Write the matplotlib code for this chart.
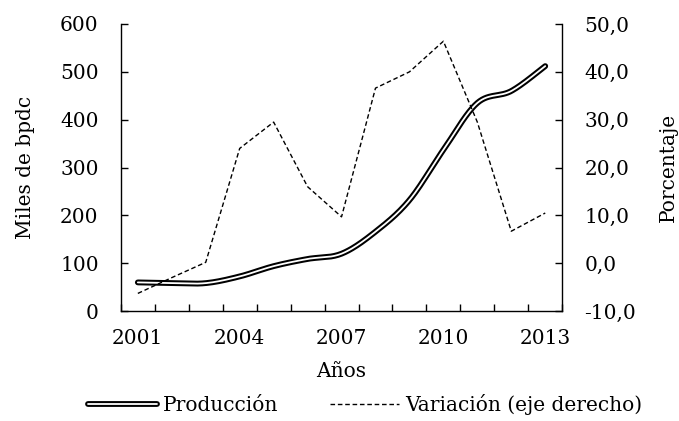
import numpy as np
import matplotlib
matplotlib.use("Agg")
import matplotlib.pyplot as plt
import matplotlib.patheffects as pe
from matplotlib.ticker import FuncFormatter

# data
years = [2001, 2002, 2003, 2004, 2005, 2006, 2007, 2008, 2009, 2010, 2011, 2012, 2013]
produccion = [60, 58.5, 58.5, 72.5, 94, 109, 120, 166, 232, 337, 435, 460, 512]
variacion = [-6.3, -3.0, 0.2, 24.0, 29.5, 16.0, 9.7, 36.6, 40.0, 46.4, 29.5, 6.7, 10.5]
year_labels = [2001, 2004, 2007, 2010, 2013]


def smooth(x, y, n=30):
    # Catmull-Rom curve through the points (like Excel's smoothed line)
    x = np.asarray(x, float)
    y = np.asarray(y, float)
    px = np.concatenate([[x[0]], x, [x[-1]]])
    py = np.concatenate([[y[0]], y, [y[-1]]])
    xs, ys = [], []
    t = np.linspace(0, 1, n)
    for i in range(1, len(px) - 2):
        for arr, out in ((px, xs), (py, ys)):
            p0, p1, p2, p3 = arr[i - 1], arr[i], arr[i + 1], arr[i + 2]
            seg = 0.5 * ((2 * p1) + (-p0 + p2) * t
                         + (2 * p0 - 5 * p1 + 4 * p2 - p3) * t ** 2
                         + (-p0 + 3 * p1 - 3 * p2 + p3) * t ** 3)
            out.extend(seg)
    return np.array(xs), np.array(ys)


plt.rcParams['font.family'] = ['DejaVu Serif']
fs = 14.5

fig = plt.figure(figsize=(6.79, 4.21), dpi=100)
ax = fig.add_axes([0.178, 0.261, 0.650, 0.682])
ax2 = ax.twinx()

pos = np.arange(1, len(years) + 1)
sx, sy = smooth(pos, produccion)
l1, = ax.plot(sx, sy, color="white", lw=1.3, solid_capstyle="round",
              path_effects=[pe.Stroke(linewidth=4.2, foreground="black", capstyle="round"), pe.Normal()],
              label="Producción", zorder=3)
l2, = ax2.plot(pos, variacion, color="black", lw=1.0, dashes=(3.3, 2.0),
               label="Variación (eje derecho)")

ax.set_xlim(0.5, len(years) + 0.5)
ax.set_ylim(0, 600)
ax.set_yticks(range(0, 601, 100))
ax2.set_ylim(-10, 50)
ax2.set_yticks(range(-10, 51, 10))
ax2.yaxis.set_major_formatter(FuncFormatter(lambda v, p: "{:.1f}".format(v).replace(".", ",")))

ax.set_xticks([years.index(y) + 1 for y in year_labels])
ax.set_xticklabels([str(y) for y in year_labels])
ax.set_xticks(np.arange(0.5, len(years) + 1, 1), minor=True)
ax.tick_params(axis="x", which="major", length=0, pad=13, labelsize=fs)
ax.tick_params(axis="x", which="minor", direction="in", length=5, width=1)
ax.tick_params(axis="y", direction="in", length=5, width=1, pad=16, labelsize=fs)
ax2.tick_params(axis="y", direction="in", length=5, width=1, pad=16, labelsize=fs)

for a in (ax, ax2):
    a.spines["top"].set_visible(False)
    for s in ("left", "right", "bottom"):
        a.spines[s].set_linewidth(1.0)
ax.spines["right"].set_visible(False)
ax2.spines["left"].set_visible(False)
ax2.spines["bottom"].set_visible(False)

ax.set_xlabel("Años", fontsize=fs, labelpad=10)
ax.set_ylabel("Miles de bpdc", fontsize=fs, labelpad=18)
ax2.set_ylabel("Porcentaje", fontsize=fs, labelpad=16)

fig.legend(handles=[l1, l2], loc="lower center", bbox_to_anchor=(0.5376, -0.028), ncol=2,
           frameon=False, fontsize=fs, handlelength=3.4, handletextpad=0.3,
           columnspacing=2.6)

fig.savefig("out.png", dpi=100)
